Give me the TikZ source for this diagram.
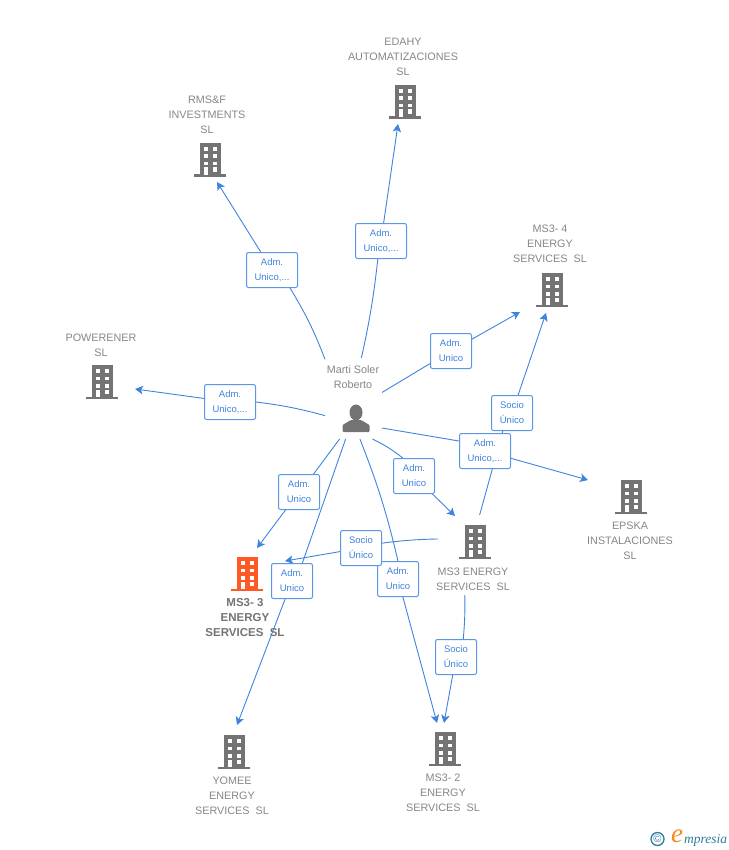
\documentclass[tikz,border=0pt]{standalone}
\usepackage{fontspec}
\setmainfont{Liberation Sans}
\newfontfamily\logofont{Liberation Serif}
\usetikzlibrary{arrows.meta,backgrounds}
\definecolor{linkblue}{HTML}{3F83E0}
\definecolor{boxblue}{HTML}{5A97E6}
\definecolor{labelgray}{HTML}{868686}
\definecolor{icongray}{HTML}{737373}
\definecolor{mainorange}{HTML}{FF5A26}
\definecolor{logoteal}{HTML}{2F7C9C}
\definecolor{logoorange}{HTML}{F5891F}
\tikzset{
  link/.style={draw=linkblue,line width=0.9pt},
  linkto/.style={link,-{Stealth[length=8pt,width=8.5pt,inset=2pt]}},
  boxlabel/.style={draw=boxblue,line width=1pt,rounded corners=2pt,fill=white,text=linkblue,align=center,inner sep=0pt,minimum height=35pt,font=\fontsize{9.5}{15}\selectfont},
  narrowbox/.style={boxlabel,minimum width=41pt},
  widebox/.style={boxlabel,minimum width=51pt},
  company/.style={text=labelgray,align=center,inner sep=0pt,font=\fontsize{10.8}{15}\selectfont},
  mainco/.style={company,text=icongray,font=\fontsize{11.5}{15}\selectfont\bfseries},
  hitarea/.style={inner sep=0pt,outer sep=0pt,minimum width=#1},
  office/.style={inner sep=0pt,outer sep=0pt,minimum width=32pt,minimum height=34pt,
    path picture={
      \def\ppbb{path picture bounding box}
      \fill[#1] ([shift={(5.5pt,0pt)}]\ppbb.north west) rectangle ([shift={(-5.5pt,2pt)}]\ppbb.south east);
      \fill[#1] ([shift={(0pt,2.5pt)}]\ppbb.south west) rectangle (\ppbb.south east);
      \fill[white] ([shift={(9.5pt,-4pt)}]\ppbb.north west) rectangle +(4.3pt,-3.7pt);
      \fill[white] ([shift={(18.5pt,-4pt)}]\ppbb.north west) rectangle +(4.3pt,-3.7pt);
      \fill[white] ([shift={(9.5pt,-11.5pt)}]\ppbb.north west) rectangle +(4.3pt,-3.5pt);
      \fill[white] ([shift={(18.5pt,-11.5pt)}]\ppbb.north west) rectangle +(4.3pt,-3.5pt);
      \fill[white] ([shift={(9.5pt,-19pt)}]\ppbb.north west) rectangle +(4.3pt,-3.5pt);
      \fill[white] ([shift={(18.5pt,-19pt)}]\ppbb.north west) rectangle +(4.3pt,-3.5pt);
      \fill[white] ([shift={(9.5pt,-24.5pt)}]\ppbb.north west) rectangle +(4.3pt,-7.5pt);
      \fill[white] ([shift={(18.5pt,-24.5pt)}]\ppbb.north west) rectangle +(4.3pt,-4.3pt);
    }},
}
\begin{document}
\begin{tikzpicture}[x=1pt,y=-1pt]
\useasboundingbox (0,0) rectangle (728,850);
%companies
\node[company] (edahyname) at (403,57) {EDAHY\\AUTOMATIZACIONES\\SL};
\node[office=icongray] (edahy) at (405,102) {};
\node[company] (rmsname) at (207,115) {RMS\&F\\INVESTMENTS\\SL};
\node[office=icongray] (rms) at (210,160) {};
\node[company] (msfourname) at (550,244) {MS3- 4\\ENERGY\\SERVICES\ \ SL};
\node[office=icongray] (msfour) at (552,290) {};
\node[company] (powername) at (101,345) {POWERENER\\SL};
\node[office=icongray] (power) at (102,382) {};
\node[company] (epskaname) at (630,541) {EPSKA\\INSTALACIONES\\SL};
\node[office=icongray] (epska) at (631,497) {};
\node[company] (msname) at (473,579) {MS3 ENERGY\\SERVICES\ \ SL};
\node[office=icongray] (msicon) at (475,542) {};
\node[mainco] (msthreename) at (245,618) {MS3- 3\\ENERGY\\SERVICES\ \ SL};
\node[office=mainorange] (msthree) at (247,574) {};
\node[company] (yomeename) at (232,796) {YOMEE\\ENERGY\\SERVICES\ \ SL};
\node[office=icongray] (yomee) at (234,752) {};
\node[company] (mstwoname) at (443,793) {MS3- 2\\ENERGY\\SERVICES\ \ SL};
\node[office=icongray] (mstwo) at (445,749) {};
%person
\node[company] (personname) at (353,377) {Marti Soler\\Roberto};
\fill[icongray] (356,412.5) ellipse (6.5 and 8);
\fill[icongray,rounded corners=1pt] (342.5,432) -- (342.5,425) -- (351,420) -- (361,420) -- (369.5,425) -- (369.5,432) -- cycle;
\node[hitarea=57pt,minimum height=81pt] (person) at (353.5,398.5) {};
\node[hitarea=72pt,minimum height=80pt] (ms) at (474,555) {};
%labels
\node[widebox] (admrms) at (272,270) {Adm.\\Unico,...};
\node[widebox] (admedahy) at (381,241) {Adm.\\Unico,...};
\node[narrowbox] (admfour) at (451,351) {Adm.\\Unico};
\node[widebox] (admpower) at (230,402) {Adm.\\Unico,...};
\node[widebox] (admepska) at (485,451) {Adm.\\Unico,...};
\node[narrowbox] (admthree) at (299,492) {Adm.\\Unico};
\node[narrowbox] (admms) at (414,476) {Adm.\\Unico};
\node[narrowbox] (admyomee) at (292,581) {Adm.\\Unico};
\node[narrowbox] (admtwo) at (398,579) {Adm.\\Unico};
\node[narrowbox] (sociofour) at (512,413) {Socio\\Único};
\node[narrowbox] (sociothree) at (361,548) {Socio\\Único};
\node[narrowbox] (sociotwo) at (456,657) {Socio\\Único};
%arrow ends
\coordinate (rmstip) at (217,182);
\coordinate (edahytip) at (398,124);
\coordinate (fourtip) at (520,312);
\coordinate (foursocio) at (546,313);
\coordinate (powertip) at (135,389);
\coordinate (epskatip) at (588,480);
\coordinate (threetip) at (257,548);
\coordinate (threesocio) at (285,561);
\coordinate (yomeetip) at (237,725);
\coordinate (mstip) at (455,516);
\coordinate (twotip) at (437,723);
\coordinate (twosocio) at (444,723);
\begin{scope}[on background layer]
\draw[link] (person.126.5) to[bend right=5] (admrms.-45);
\draw[linkto] (admrms) -- (rmstip);
\draw[link] (person.79.5) to[bend right=3] (admedahy.260);
\draw[linkto] (admedahy) -- (edahytip);
\draw[link] (person.12.8) -- (admfour);
\draw[linkto] (admfour) -- (fourtip);
\draw[link] (person.211.5) to[bend right=4] (admpower.east);
\draw[linkto] (admpower) -- (powertip);
\draw[link] (person.-46) -- (admepska.159);
\draw[linkto] (admepska) -- (epskatip);
\draw[link] (person.251.6) -- (admthree.51);
\draw[linkto] (admthree) -- (threetip);
\draw[link] (person.259.5) -- (admyomee.60);
\draw[linkto] (admyomee) -- (yomeetip);
\draw[link] (person.295.7) to[bend left=6] (admms.122);
\draw[linkto] (admms) -- (mstip);
\draw[link] (person.279.1) to[bend left=4] (admtwo.north);
\draw[linkto] (admtwo) -- (twotip);
\draw[link] (ms.82.9) -- (sociofour.243);
\draw[linkto] (sociofour) -- (foursocio);
\draw[link] (ms.156) to[bend right=3] (sociothree.13.7);
\draw[linkto] (sociothree) -- (threesocio);
\draw[link] (ms.257.3) to[bend left=3] (sociotwo.68);
\draw[linkto] (sociotwo) -- (twosocio);
\end{scope}
%logo
\node[text=logoteal,inner sep=0pt,font=\fontsize{11}{12}\selectfont] (logocopy) at (657.5,839) {©};
\node[circle,draw=logoteal,line width=1.3pt,minimum size=13pt,inner sep=0pt] (logoring) at (657.5,839) {};
\node[text=logoorange,inner sep=0pt,font=\logofont\itshape\fontsize{27}{27}\selectfont] (logoe) at (677,836) {e};
\node[text=logoteal,inner sep=0pt,anchor=west,font=\logofont\itshape\fontsize{13.5}{12}\selectfont] (logoname) at (684,840) {mpresia};
\end{tikzpicture}
\end{document}
